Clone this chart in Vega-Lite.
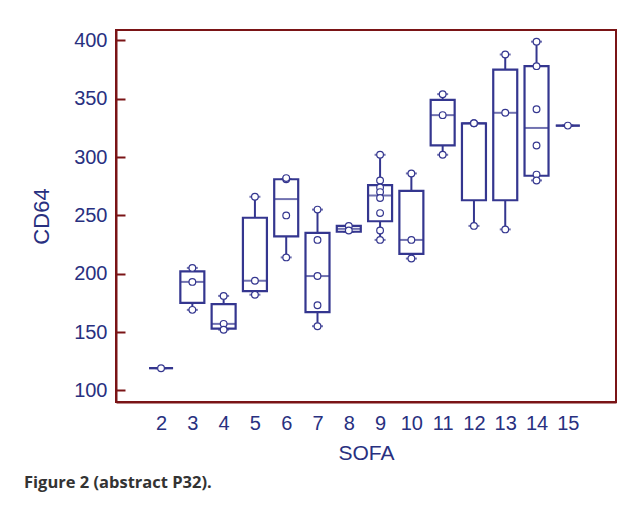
{
  "$schema": "https://vega.github.io/schema/vega-lite/v6.json",
  "autosize": {"type": "none"},
  "width": 500,
  "height": 372,
  "padding": {"left": 116, "top": 30, "right": 17, "bottom": 104},
  "background": "white",
  "datasets": {
    "boxes": [
      {"sofa": 2, "lo": 119, "q1": 119, "med": 119, "q3": 119, "hi": 119},
      {"sofa": 3, "lo": 169, "q1": 175, "med": 193, "q3": 202, "hi": 205},
      {"sofa": 4, "lo": 152, "q1": 153, "med": 157, "q3": 174, "hi": 181},
      {"sofa": 5, "lo": 182, "q1": 185, "med": 194, "q3": 248, "hi": 266},
      {"sofa": 6, "lo": 214, "q1": 232, "med": 264, "q3": 281, "hi": 281},
      {"sofa": 7, "lo": 155, "q1": 167, "med": 198, "q3": 235, "hi": 255},
      {"sofa": 8, "lo": 236, "q1": 236, "med": 238.5, "q3": 241, "hi": 241},
      {"sofa": 9, "lo": 229, "q1": 245, "med": 267, "q3": 276, "hi": 302},
      {"sofa": 10, "lo": 213, "q1": 217, "med": 229, "q3": 271, "hi": 286},
      {"sofa": 11, "lo": 302, "q1": 310, "med": 336, "q3": 349, "hi": 354},
      {"sofa": 12, "lo": 241, "q1": 263, "med": 329, "q3": 329, "hi": 329},
      {"sofa": 13, "lo": 238, "q1": 263, "med": 338, "q3": 375, "hi": 388},
      {"sofa": 14, "lo": 280, "q1": 284, "med": 325, "q3": 378, "hi": 399},
      {"sofa": 15, "lo": 327, "q1": 327, "med": 327, "q3": 327, "hi": 327}
    ],
    "points": [
      {"sofa": 2, "cd64": 119},
      {"sofa": 3, "cd64": 205}, {"sofa": 3, "cd64": 193}, {"sofa": 3, "cd64": 169},
      {"sofa": 4, "cd64": 181}, {"sofa": 4, "cd64": 157}, {"sofa": 4, "cd64": 152},
      {"sofa": 5, "cd64": 266}, {"sofa": 5, "cd64": 194}, {"sofa": 5, "cd64": 182},
      {"sofa": 6, "cd64": 281}, {"sofa": 6, "cd64": 282}, {"sofa": 6, "cd64": 250}, {"sofa": 6, "cd64": 214},
      {"sofa": 7, "cd64": 255}, {"sofa": 7, "cd64": 229}, {"sofa": 7, "cd64": 198}, {"sofa": 7, "cd64": 173}, {"sofa": 7, "cd64": 155},
      {"sofa": 8, "cd64": 241}, {"sofa": 8, "cd64": 237},
      {"sofa": 9, "cd64": 302}, {"sofa": 9, "cd64": 280}, {"sofa": 9, "cd64": 274}, {"sofa": 9, "cd64": 270}, {"sofa": 9, "cd64": 265}, {"sofa": 9, "cd64": 252}, {"sofa": 9, "cd64": 237}, {"sofa": 9, "cd64": 229},
      {"sofa": 10, "cd64": 286}, {"sofa": 10, "cd64": 229}, {"sofa": 10, "cd64": 213},
      {"sofa": 11, "cd64": 354}, {"sofa": 11, "cd64": 336}, {"sofa": 11, "cd64": 302},
      {"sofa": 12, "cd64": 329}, {"sofa": 12, "cd64": 329}, {"sofa": 12, "cd64": 241},
      {"sofa": 13, "cd64": 388}, {"sofa": 13, "cd64": 338}, {"sofa": 13, "cd64": 238},
      {"sofa": 14, "cd64": 399}, {"sofa": 14, "cd64": 378}, {"sofa": 14, "cd64": 341}, {"sofa": 14, "cd64": 310}, {"sofa": 14, "cd64": 285}, {"sofa": 14, "cd64": 280},
      {"sofa": 15, "cd64": 327}
    ]
  },
  "title": {
    "text": "Figure 2 (abstract P32).",
    "orient": "bottom",
    "anchor": "start",
    "frame": "group",
    "dx": -92,
    "offset": 12,
    "font": "Open Sans",
    "fontSize": 16.5,
    "fontWeight": "bold",
    "color": "#333333"
  },
  "config": {
    "view": {"stroke": "#7a1416", "strokeWidth": 2},
    "axis": {
      "labelFont": "Liberation Sans",
      "titleFont": "Liberation Sans",
      "labelColor": "#283080",
      "titleColor": "#283080",
      "titleFontWeight": "normal",
      "domainColor": "#7a1416",
      "domainWidth": 2,
      "tickColor": "#7a1416",
      "tickWidth": 2,
      "grid": false
    }
  },
  "encoding": {
    "x": {
      "field": "sofa",
      "type": "quantitative",
      "scale": {"domain": [0.72, 16.38], "nice": false, "zero": false},
      "axis": {
        "title": "SOFA",
        "values": [2, 3, 4, 5, 6, 7, 8, 9, 10, 11, 12, 13, 14, 15],
        "format": "d",
        "ticks": false,
        "labelPadding": 11,
        "labelFontSize": 20,
        "titleFontSize": 21,
        "titlePadding": 9
      }
    }
  },
  "layer": [
    {
      "data": {"name": "boxes"},
      "mark": {"type": "rule", "color": "#34368f", "strokeWidth": 2},
      "encoding": {
        "y": {
          "field": "lo",
          "type": "quantitative",
          "scale": {"domain": [90, 409], "nice": false, "zero": false},
          "axis": {
            "title": "CD64",
            "values": [100, 150, 200, 250, 300, 350, 400],
            "tickSize": -9,
            "zindex": 2,
            "labelPadding": 18,
            "labelFontSize": 20,
            "titleFontSize": 22,
            "titlePadding": 20
          }
        },
        "y2": {"field": "hi"}
      }
    },
    {
      "data": {"name": "boxes"},
      "mark": {"type": "tick", "orient": "horizontal", "color": "#34368f", "size": 11, "thickness": 2},
      "encoding": {"y": {"field": "lo", "type": "quantitative"}}
    },
    {
      "data": {"name": "boxes"},
      "mark": {"type": "tick", "orient": "horizontal", "color": "#34368f", "size": 11, "thickness": 2},
      "encoding": {"y": {"field": "hi", "type": "quantitative"}}
    },
    {
      "data": {"name": "boxes"},
      "mark": {"type": "bar", "size": 24, "fill": "white", "stroke": "#34368f", "strokeWidth": 2.2},
      "encoding": {
        "y": {"field": "q1", "type": "quantitative"},
        "y2": {"field": "q3"}
      }
    },
    {
      "data": {"name": "boxes"},
      "mark": {"type": "tick", "orient": "horizontal", "color": "#34368f", "size": 24, "thickness": 2},
      "encoding": {"y": {"field": "med", "type": "quantitative"}}
    },
    {
      "data": {"name": "points"},
      "mark": {"type": "point", "shape": "circle", "size": 45, "filled": false, "fill": "white", "fillOpacity": 1, "stroke": "#34368f", "strokeWidth": 1.2, "opacity": 1},
      "encoding": {"y": {"field": "cd64", "type": "quantitative"}}
    }
  ]
}
